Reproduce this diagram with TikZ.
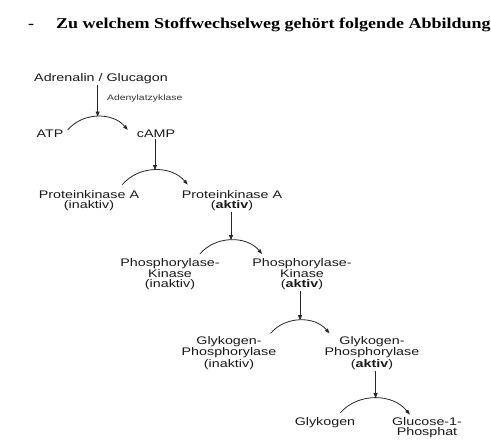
\documentclass[tikz,border=0pt]{standalone}
\usepackage{fontspec}
\newfontfamily\labfont[FakeStretch=1.3]{Liberation Sans}
\newfontfamily\titlefont[FakeStretch=1.2]{Liberation Serif}
\usetikzlibrary{arrows.meta}

\begin{document}
\begin{tikzpicture}[x=1pt,y=1pt,
  lbl/.style={font=\labfont\fontsize{11}{10}\selectfont,align=center,inner sep=1pt,text=black!90},
  enz/.style={font=\labfont\fontsize{8}{8}\selectfont,inner sep=1pt,text=black!80},
  ttl/.style={font=\titlefont\bfseries\fontsize{15}{18}\selectfont,anchor=base west,inner sep=0pt},
  act/.style={draw=black!85,line width=0.8pt,-{Triangle[length=5pt,width=4pt]}},
  arc/.style={draw=black!85,line width=0.8pt,bend left=50,-{Triangle[length=5pt,width=3.5pt]}}]
\useasboundingbox (0,0) rectangle (491,-445);
% Frage
\node[ttl] (dash) at (28,-28) {-};
\node[ttl] (frage) at (56,-28) {Zu welchem Stoffwechselweg gehört folgende Abbildung};
% Stoffe
\node[lbl] (adr) at (101,-79) {Adrenalin / Glucagon};
\node[enz,anchor=west] (adc) at (106,-98) {Adenylatzyklase};
\node[lbl] (atp) at (50,-134) {ATP};
\node[lbl] (camp) at (156,-134) {cAMP};
\node[lbl] (pkai) at (89,-201) {Proteinkinase A\\(inaktiv)};
\node[lbl] (pkaa) at (232,-201) {Proteinkinase A\\(\textbf{aktiv})};
\node[lbl] (phki) at (170,-274) {Phosphorylase-\\Kinase\\(inaktiv)};
\node[lbl] (phka) at (302,-274) {Phosphorylase-\\Kinase\\(\textbf{aktiv})};
\node[lbl] (gpi) at (229,-353) {Glykogen-\\Phosphorylase\\(inaktiv)};
\node[lbl] (gpa) at (372,-353) {Glykogen-\\Phosphorylase\\(\textbf{aktiv})};
\node[lbl] (gly) at (325,-423) {Glykogen};
\node[lbl] (g1p) at (427,-428) {Glucose-1-\\Phosphat};
% Umsetzungen
\foreach \l/\r/\k/\ax/\ay/\bx/\by in {atp/camp/k1/3/-1/-8/-1,
    pkai/pkaa/k2/-18/5/7/5, phki/phka/k3/-21/3/11/3,
    gpi/gpa/k4/-7/2/6/2, gly/g1p/k5/-16/4/19/2}
  \draw[arc] ([xshift=\ax,yshift=\ay]\l.north east) to coordinate[pos=.5] (\k) ([xshift=\bx,yshift=\by]\r.north west);
% Aktivierung
\draw[act] (k1 |- adr.south) -- (k1);
\draw[act] (k2 |- camp.south) -- (k2);
\draw[act] (k3 |- pkaa.south) -- (k3);
\draw[act] (k4 |- phka.south) -- (k4);
\draw[act] (k5 |- gpa.south) -- (k5);
\end{tikzpicture}
\end{document}
